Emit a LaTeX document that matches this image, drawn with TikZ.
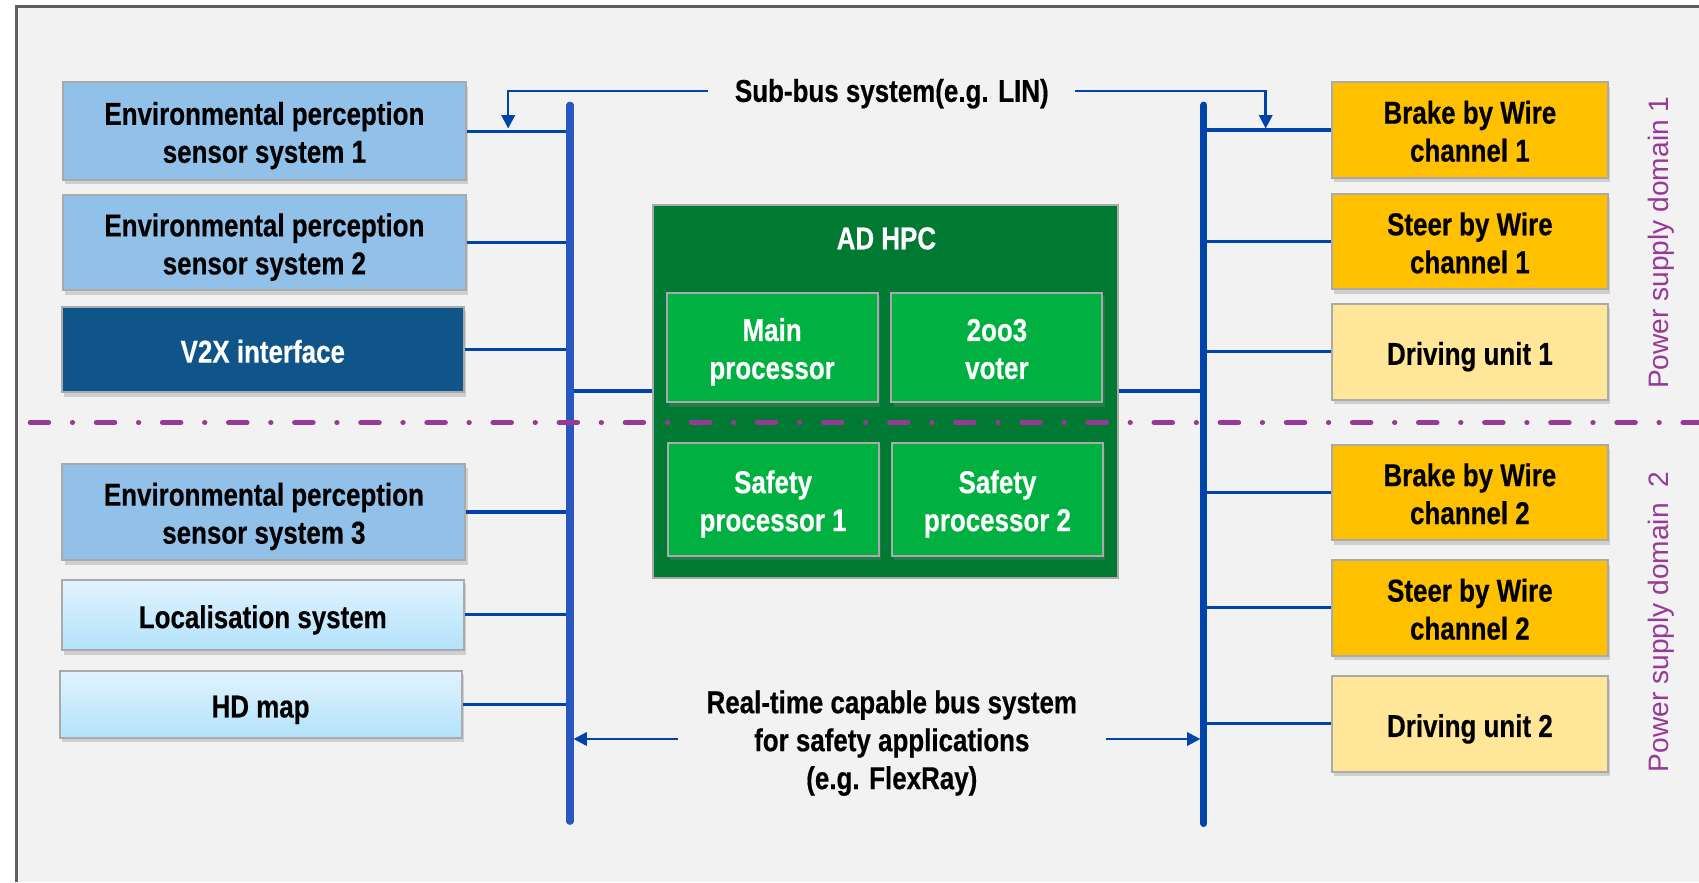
\documentclass[tikz,border=0pt]{standalone}
\usepackage{fontspec}
\setmainfont[FakeStretch=0.82,BoldFeatures={FakeBold=0.4}]{Liberation Sans}
\newfontfamily\sidefont{Liberation Sans}
\usetikzlibrary{arrows.meta,shadows}

\definecolor{bgcol}{RGB}{242,242,242}
\definecolor{framecol}{RGB}{95,95,95}
\definecolor{boxgray}{RGB}{170,170,170}
\definecolor{envblue}{RGB}{145,192,233}
\definecolor{v2xblue}{RGB}{16,85,138}
\definecolor{loctop}{RGB}{226,243,254}
\definecolor{locbottom}{RGB}{178,226,251}
\definecolor{hpcdark}{RGB}{0,122,51}
\definecolor{hpclight}{RGB}{0,176,64}
\definecolor{bywire}{RGB}{255,192,0}
\definecolor{driveunit}{RGB}{255,230,153}
\definecolor{leftbus}{RGB}{40,88,190}
\definecolor{busblue}{RGB}{0,68,170}
\definecolor{supplypurple}{RGB}{150,58,150}

\newcommand{\diagfont}{\fontsize{9}{10.8}\selectfont\bfseries}

\tikzset{
	oneline/.style={text height=7.5pt,text depth=0pt},
	twoline/.style={text height=18pt,text depth=0pt},
	unit/.style={rectangle,draw=boxgray,line width=0.6pt,align=center,font=\diagfont,inner sep=0pt,
		drop shadow={shadow xshift=0.6pt,shadow yshift=-1.3pt,opacity=0.3}},
	envbox/.style={unit,twoline,fill=envblue,minimum width=4.03cm},
	locbox/.style={unit,oneline,top color=loctop,bottom color=locbottom,minimum width=4.02cm},
	actbox/.style={unit,twoline,fill=bywire,minimum width=2.76cm,minimum height=0.954cm},
	drivebox/.style={unit,oneline,fill=driveunit,minimum width=2.76cm,minimum height=0.96cm},
	procbox/.style={unit,twoline,fill=hpclight,text=white,minimum width=2.11cm},
	bus/.style={line width=2pt,line cap=round},
	link/.style={busblue,line width=0.9pt},
	busarrow/.style={busblue,line width=0.7pt,-{Triangle[length=3.8pt,width=3.8pt]}},
	domain_line/.style={supplypurple,line width=1.5pt,line cap=round,
		dash pattern=on 5.2pt off 6.8pt on 0.01pt off 6.8pt}
}

\begin{document}
\begin{tikzpicture}
	\useasboundingbox (0,0) rectangle (16.99,8.82);
	\fill[bgcol] (0.163,0) rectangle (16.99,8.755);
	\draw[framecol,line width=0.7pt] (0.163,0) -- (0.163,8.755) -- (16.99,8.755);

	\node at (2.644, 7.509) [envbox,minimum height=0.975cm] (env_1)   {Environmental perception\\sensor system 1};
	\node at (2.644, 6.393) [envbox,minimum height=0.954cm] (env_2)   {Environmental perception\\sensor system 2};
	\node at (2.628, 5.325) [unit,oneline,fill=v2xblue,text=white,minimum width=4.02cm,minimum height=0.856cm] (v2x) {V2X interface};
	\node at (2.639, 3.700) [envbox,minimum height=0.964cm] (env_3)   {Environmental perception\\sensor system 3};
	\node at (2.628, 2.671) [locbox,minimum height=0.704cm] (local)   {Localisation system};
	\node at (2.606, 1.777) [locbox,minimum height=0.672cm] (hd_map)  {HD map};

	\node at (14.699, 7.520) [actbox]   (brake_1) {Brake by Wire\\channel 1};
	\node at (14.699, 6.404) [actbox]   (steer_1) {Steer by Wire\\channel 1};
	\node at (14.699, 5.304) [drivebox] (drive_1) {Driving unit 1};
	\node at (14.699, 3.895) [actbox]   (brake_2) {Brake by Wire\\channel 2};
	\node at (14.699, 2.741) [actbox]   (steer_2) {Steer by Wire\\channel 2};
	\node at (14.699, 1.582) [drivebox] (drive_2) {Driving unit 2};

	\node at (8.858, 4.908) [rectangle,draw=boxgray,line width=0.6pt,fill=hpcdark,minimum width=4.649cm,minimum height=3.728cm] (hpc) {};
	\node at (8.864, 6.436) [font=\diagfont,text=white] (hpc_label) {AD HPC};
	\node at (7.721, 5.347) [procbox,minimum height=1.094cm] (main_proc)   {Main\\processor};
	\node at (9.969, 5.347) [procbox,minimum height=1.094cm] (voter)       {2oo3\\voter};
	\node at (7.731, 3.825) [procbox,minimum height=1.127cm] (safety_1)    {Safety\\processor 1};
	\node at (9.975, 3.825) [procbox,minimum height=1.127cm] (safety_2)    {Safety\\processor 2};

	\coordinate (lbus_top) at ( 5.700, 7.769);
	\coordinate (lbus_bot) at ( 5.700, 0.606);
	\coordinate (rbus_top) at (12.039, 7.769);
	\coordinate (rbus_bot) at (12.039, 0.585);

	\draw[link] (env_1.east)  -- (env_1.east -| lbus_top);
	\draw[link] (env_2.east)  -- (env_2.east -| lbus_top);
	\draw[link] (v2x.east)    -- (v2x.east -| lbus_top);
	\draw[link] (env_3.east)  -- (env_3.east -| lbus_top);
	\draw[link] (local.east)  -- (local.east -| lbus_top);
	\draw[link] (hd_map.east) -- (hd_map.east -| lbus_top);

	\draw[link] (brake_1.west) -- (brake_1.west -| rbus_top);
	\draw[link] (steer_1.west) -- (steer_1.west -| rbus_top);
	\draw[link] (drive_1.west) -- (drive_1.west -| rbus_top);
	\draw[link] (brake_2.west) -- (brake_2.west -| rbus_top);
	\draw[link] (steer_2.west) -- (steer_2.west -| rbus_top);
	\draw[link] (drive_2.west) -- (drive_2.west -| rbus_top);

	\draw[link,line width=1.3pt] (hpc.west) -- (hpc.west -| lbus_top);
	\draw[link,line width=1.3pt] (hpc.east) -- (hpc.east -| rbus_top);

	\draw[bus,leftbus] (lbus_top) -- (lbus_bot);
	\draw[bus,busblue] (rbus_top) -- (rbus_bot);

	\node at (8.918, 7.910) [font=\diagfont,text height=6.2pt,text depth=0pt,inner xsep=0.26cm] (sub_bus) {Sub-bus system(e.g. LIN)};
	\coordinate (sub_left_tip)  at ( 5.082, 7.535);
	\coordinate (sub_right_tip) at (12.657, 7.535);
	\draw[busarrow] (sub_bus.west) -| (sub_left_tip);
	\draw[busarrow] (sub_bus.east) -| (sub_right_tip);

	\node at (8.918, 1.419) [font=\diagfont,align=center,text height=27.9pt,text depth=0pt,inner xsep=0.28cm] (rt_bus) {Real-time capable bus system\\for safety applications\\(e.g. FlexRay)};
	\draw[busarrow,shorten >=1pt] (rt_bus.west |- 0,1.430) -- (lbus_top |- 0,1.430);
	\draw[busarrow,shorten >=1pt] (rt_bus.east |- 0,1.430) -- (rbus_top |- 0,1.430);

	\coordinate (domain_start) at ( 0.303, 4.594);
	\coordinate (domain_end)   at (16.990, 4.594);
	\draw[domain_line] (domain_start) -- (domain_end);

	\node at (16.612, 6.393) [rotate=90,font=\sidefont\fontsize{8}{10}\selectfont,text=supplypurple] (domain_1) {Power supply domain 1};
	\node at (16.612, 2.600) [rotate=90,font=\sidefont\fontsize{8}{10}\selectfont,text=supplypurple] (domain_2) {Power supply domain~~2};
\end{tikzpicture}
\end{document}
